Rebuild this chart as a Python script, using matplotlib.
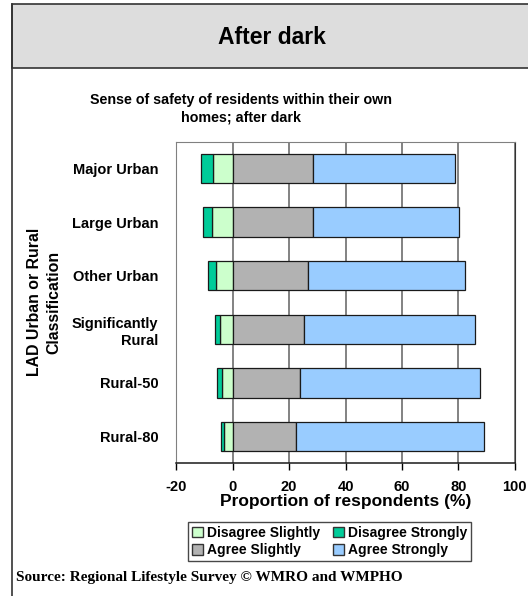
import matplotlib
matplotlib.use("Agg")
import matplotlib.pyplot as plt
from matplotlib.patches import Rectangle, Patch
from matplotlib.lines import Line2D
import numpy as np

# data (percent of respondents)
categories = ["Major Urban", "Large Urban", "Other Urban",
              "Significantly\nRural", "Rural-50", "Rural-80"]
disagree_slightly = [7.0, 7.2, 5.8, 4.4, 3.7, 3.0]
disagree_strongly = [4.1, 3.2, 2.9, 2.0, 1.7, 1.0]
agree_slightly = [28.3, 28.3, 26.8, 25.4, 23.8, 22.3]
agree_strongly = [50.5, 52.1, 55.7, 60.6, 64.0, 66.8]
xticks = [-20, 0, 20, 40, 60, 80, 100]

c_ds = "#CCFFCC"
c_dst = "#00CC99"
c_asl = "#B2B2B2"
c_ast = "#99CCFF"

W, H = 528, 596
fig = plt.figure(figsize=(W / 100, H / 100), dpi=100)
bold = dict(family="Liberation Sans", weight="bold")

# outer frame and grey header band
fig.add_artist(Rectangle((12 / W, 1 - 68 / H), 1, 64 / H, transform=fig.transFigure,
                         facecolor="#DDDDDD", edgecolor="#333333", lw=1.2))
fig.add_artist(Line2D([12 / W, 12 / W], [0, 1 - 4 / H], transform=fig.transFigure,
                      color="#333333", lw=1.2))
fig.text(272 / W, 1 - 37 / H, "After dark", ha="center", va="center", fontsize=16.5, **bold)
fig.text(241 / W, 1 - 109 / H, "Sense of safety of residents within their own\nhomes; after dark",
         ha="center", va="center", fontsize=10.3, linespacing=1.3, **bold)

ax = fig.add_axes([176.3 / W, (H - 463.3) / H, (514.7 - 176.3) / W, (463.3 - 141.7) / H])

y = np.arange(len(categories))
ds = np.array(disagree_slightly)
dst = np.array(disagree_strongly)
asl = np.array(agree_slightly)
ast = np.array(agree_strongly)
h = 0.55
kw = dict(height=h, edgecolor="#1a1a1a", linewidth=0.9, zorder=3)
ax.barh(y, -ds, left=0, color=c_ds, **kw)
ax.barh(y, -dst, left=-ds, color=c_dst, **kw)
ax.barh(y, asl, left=0, color=c_asl, **kw)
ax.barh(y, ast, left=asl, color=c_ast, **kw)

ax.set_xlim(-20, 100)
ax.set_ylim(len(categories) - 0.5, -0.5)
ax.set_xticks(xticks)
ax.set_xticklabels([str(t) for t in xticks], fontsize=10.5, **bold)
ax.tick_params(axis="x", direction="out", length=5, width=1, pad=7)
ax.set_yticks(y)
ax.set_yticklabels(categories, fontsize=10.5, linespacing=1.25, **bold)
ax.tick_params(axis="y", length=0, pad=13)
ax.grid(axis="x", color="#606060", lw=1.1, zorder=1)
ax.set_axisbelow(True)
for s in ["left", "top"]:
    ax.spines[s].set_color("#808080")
ax.spines["right"].set_color("#333333")
ax.spines["bottom"].set_color("#1a1a1a")
ax.spines["bottom"].set_linewidth(1.1)
ax.set_xlabel("Proportion of respondents (%)", fontsize=12.5, labelpad=0, **bold)

fig.text(44 / W, 1 - 302 / H, "LAD Urban or Rural\nClassification", rotation=90,
         ha="center", va="center", fontsize=11.4, linespacing=1.35, **bold)

handles = [Patch(facecolor=c_ds, edgecolor="#333333"),
           Patch(facecolor=c_asl, edgecolor="#333333"),
           Patch(facecolor=c_dst, edgecolor="#333333"),
           Patch(facecolor=c_ast, edgecolor="#333333")]
labels = ["Disagree Slightly", "Agree Slightly", "Disagree Strongly", "Agree Strongly"]
leg = fig.legend(handles, labels, ncol=2, loc="center", bbox_to_anchor=(329.5 / W, 1 - 541.5 / H),
                 prop=dict(family="Liberation Sans", weight="bold", size=10),
                 frameon=True, fancybox=False, edgecolor="#1a1a1a",
                 handlelength=0.8, handleheight=0.8, handletextpad=0.3,
                 columnspacing=0.9, labelspacing=0.25, borderpad=0.3)
leg.get_frame().set_linewidth(1.0)

fig.text(16 / W, 1 - 577 / H, "Source: Regional Lifestyle Survey \u00a9 WMRO and WMPHO",
         ha="left", va="center", fontsize=11, family="Liberation Serif", weight="bold")

fig.savefig("out.png", dpi=100)
